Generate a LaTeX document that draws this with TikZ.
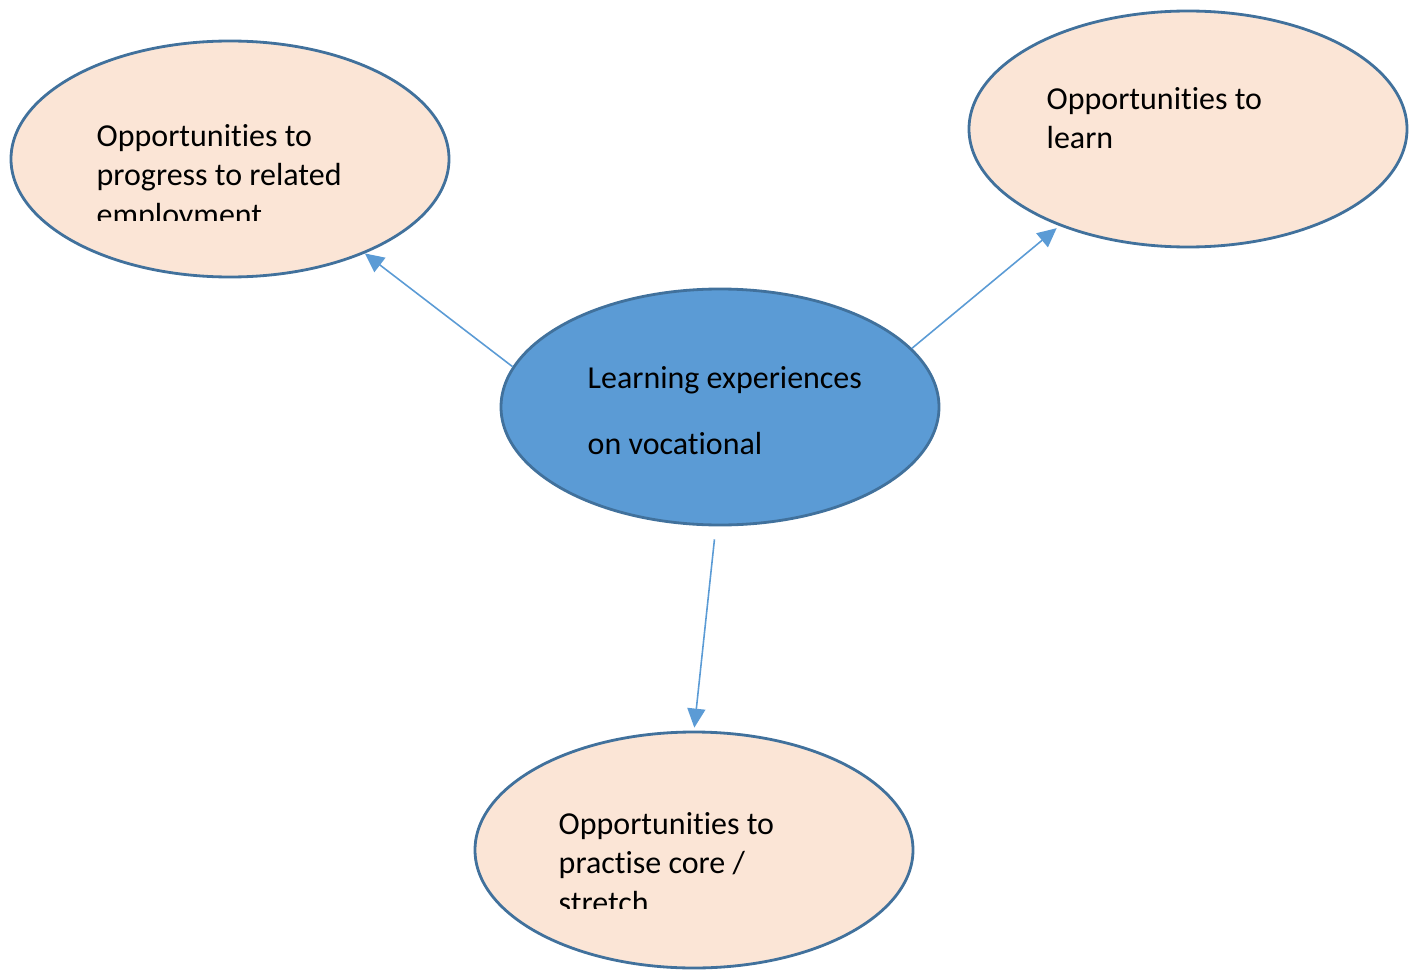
\documentclass[tikz,border=0pt]{standalone}
\usepackage{fontspec}
\setmainfont{Carlito}[Ligatures=NoCommon]
\usepackage{tikz}
\usetikzlibrary{arrows.meta,shapes.geometric,positioning}
\usepackage{xcolor}
\definecolor{vcblue}{RGB}{91,155,213}
\definecolor{vcedge}{RGB}{65,113,156}
\definecolor{vcpeach}{RGB}{251,229,214}
\tikzstyle{arrow} = [line width=0.45pt,-{Triangle[length=1.9mm,width=1.8mm]},color=vcblue]
\tikzstyle{oppbubble} = [ellipse, minimum width=4.38cm, minimum height=2.36cm, inner sep=0pt, draw=vcedge, fill=vcpeach, line width=0.8pt]
\tikzstyle{bubbletext} = [anchor=base west, inner sep=0pt, align=left, font=\fontsize{9.1}{11.1}\selectfont]

\begin{document}
\begin{tikzpicture}
\useasboundingbox (0,0) rectangle (14.2,9.69);
% Bubbles
\node[oppbubble] (progress) at (2.30,8.10) {};
\node[oppbubble] (learn) at (11.88,8.40) {};
\node[oppbubble, fill=vcblue] (vocational) at (7.20,5.62) {};
\node[oppbubble] (practise) at (6.94,1.19) {};

% Texts (placed by the baseline of the last line)
\begin{scope}
\clip (0.9,7.49) rectangle (4.4,8.7);
\node[bubbletext] (progresstext) at (0.96,7.44) {Opportunities to\\progress to related\\employment};
\end{scope}
\node[bubbletext] (learntext) at (10.46,8.20) {Opportunities to\\learn};
\node[bubbletext, font=\fontsize{9.1}{18.5}\selectfont] (vocationaltext) at (5.87,5.15) {Learning experiences\\on vocational};
\begin{scope}
\clip (5.5,0.61) rectangle (9.0,1.7);
\node[bubbletext] (practisetext) at (5.58,0.56) {Opportunities to\\practise core /\\stretch};
\end{scope}

\draw[arrow] (vocational.169.5) -- (progress.325.4);
\draw[arrow, shorten >=1pt] (vocational.17.4) -- (learn.217);
\draw[arrow, shorten <=0.13cm, shorten >=0.03cm] (vocational.268.5) -- (practise.north);
\end{tikzpicture}
\end{document}
